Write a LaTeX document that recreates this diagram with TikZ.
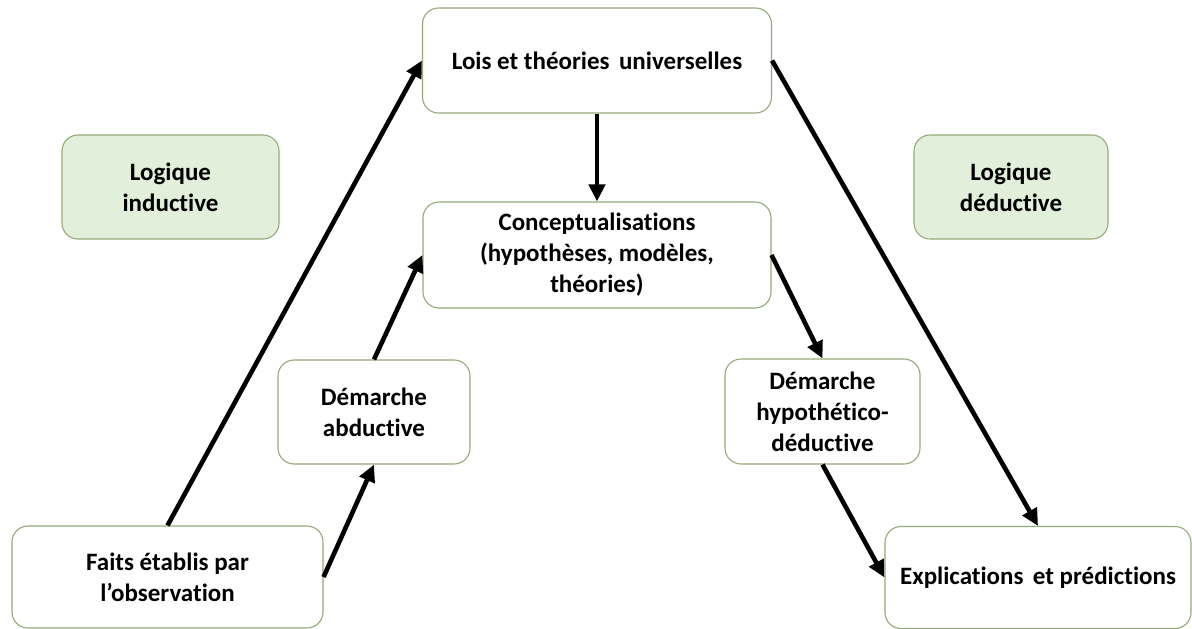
\documentclass[tikz,border=0pt]{standalone}
\usepackage{fontspec}
\setmainfont{Carlito}[RawFeature=-liga]
\usetikzlibrary{arrows.meta}
\definecolor{boxborder}{RGB}{150,170,120}
\definecolor{logicfill}{RGB}{226,239,218}
\tikzset{
  box/.style={draw=boxborder, line width=1.1pt, rounded corners=16pt, fill=white,
    align=center, inner sep=0pt, font=\fontsize{25}{31}\selectfont\bfseries},
  logicbox/.style={box, fill=logicfill},
  conn/.style={line width=4.6pt, -{Triangle[length=17pt,width=16pt]}}
}
\begin{document}
\begin{tikzpicture}[x=1pt,y=-1pt]
\useasboundingbox (0,0) rectangle (1192,629);
\node[box, minimum width=349, minimum height=105] (lois) at (597,60.5) {Lois et théories\hspace{0.15em} universelles};
\node[box, minimum width=348, minimum height=106] (concept) at (597,255) {Conceptualisations\\(hypothèses, modèles,\\théories)};
\node[logicbox, minimum width=217, minimum height=104] (ind) at (170.5,187) {Logique\\inductive};
\node[logicbox, minimum width=194, minimum height=104] (ded) at (1011,187) {Logique\\déductive};
\node[box, minimum width=192, minimum height=104] (abd) at (374,412) {Démarche\\abductive};
\node[box, minimum width=195, minimum height=105] (hyp) at (822.5,411.5) {Démarche\\hypothético-\\déductive};
\node[box, minimum width=311, minimum height=102] (faits) at (167.5,577) {Faits établis par\\l’observation};
\node[box, minimum width=306, minimum height=102] (expl) at (1038,577.5) {Explications\hspace{0.15em} et prédictions};
\draw[conn] (faits.north) -- (lois.west);
\draw[conn] (faits.east) -- (abd.south);
\draw[conn] (abd.north) -- (concept.west);
\draw[conn] (lois.south) -- (concept.north);
\draw[conn] (lois.east) -- (expl.north);
\draw[conn] (concept.east) -- (hyp.north);
\draw[conn] (hyp.south) -- (expl.west);
\end{tikzpicture}
\end{document}
